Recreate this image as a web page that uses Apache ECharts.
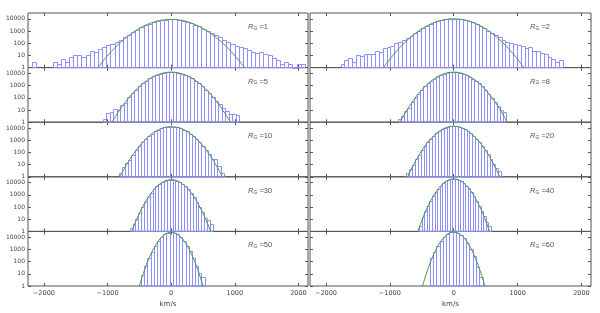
<!DOCTYPE html>
<html><head><meta charset="utf-8">
<script src="https://cdn.jsdelivr.net/npm/echarts@6/dist/echarts.min.js"></script>
<style>html,body{margin:0;padding:0;background:#fff}#c{width:600px;height:313px}</style>
</head><body><div id="c"></div>
<script>
// ---- data ----
const panelLabels = ['1','2','5','8','10','20','30','40','50','60'];
const xTicks = [-2000,-1000,0,1000,2000];
const yTicks = [1,10,100,1000,10000];
// histogram bins: left edge of first bin and bin width (km/s)
const binStart = [-2190, -1770, -1072.5, -875, -825, -742.5, -652.5, -540, -475, -378];
const binWidth = [65, 60, 55, 50, 50, 45, 45, 40, 50, 52];
const counts1 = [3,0,0,0,0,3,2,5,3,7,10,10,8,10,22,20,35,45,65,80,130,200,300,470,800,1250,2000,2950,4100,5400,6700,7800,8600,8950,8800,8200,7150,5900,4600,3400,2350,1550,980,650,450,350,200,130,90,60,50,38,30,20,17,18,12,10,6,4,2,3,2,1,2,2];
const counts2 = [2,4,6,3,11,9,12,14,13,24,20,38,50,55,95,120,170,260,420,680,1100,1730,2600,3700,5000,6400,7800,8950,9700,9950,9700,8950,7800,6450,5000,3700,2600,1720,1100,680,430,300,200,130,110,90,65,60,40,45,25,22,16,12,7,5,3,4];
const counts5 = [2,6,7,11,10,25,40,110,240,470,880,1550,2550,3900,5600,7550,9500,11200,12400,12800,12350,11200,9500,7550,5600,3900,2550,1550,880,480,250,120,55,30,15,9,5,5,4];
const counts8 = [2,3,9,16,42,100,220,450,850,1500,2450,3800,5500,7500,9450,11200,12400,12800,12350,11200,9450,7500,5550,3800,2480,1500,850,450,220,100,45,20,10,7];
const counts10 = [2,6,14,25,65,150,330,670,1250,2150,3500,5200,7250,9350,11200,12500,13000,12500,11250,9350,7250,5200,3500,2180,1250,680,340,160,70,30,28,8,2];
const counts20 = [2,4,10,27,66,155,340,690,1290,2260,3670,5500,7700,10000,12000,13500,14000,13500,12050,10000,7700,5500,3650,2250,1300,700,350,160,70,30,12,5,3];
const counts30 = [2,4,10,34,100,270,645,1400,2740,4840,7700,11000,14300,16700,17600,16700,14300,11050,7700,4850,2750,1400,650,270,100,36,12,8,4];
const counts40 = [3,14,45,130,340,800,1700,3250,5650,8900,12700,16300,19000,20000,19000,16400,12700,8950,5700,3300,1700,800,340,130,50,18,6,3];
const counts50 = [8,40,180,670,2050,5100,10300,17100,23200,25700,23200,17100,10300,5100,2050,680,190,45,12,5];
const counts60 = [200,600,1900,5200,11000,18800,25200,26800,22600,15100,8000,3400,1150,300,35,6];
const allCounts = [counts1,counts2,counts5,counts8,counts10,counts20,counts30,counts40,counts50,counts60];
// fitted curve, sampled symmetrically about 0 with the given step (km/s)
const fitStep = [150,150,125,110,100,90,90,80,70,70];
const fit1 = [0.46,4.7,35,190,761,2250,4850,7710,9000,7710,4850,2250,761,190,35,4.7,0.46];
const fit2 = [0.17,2.2,20.7,137,641,2130,5030,8420,10000,8420,5030,2130,641,137,20.7,2.2,0.17];
const fit5 = [0.23,3.0,27.5,180,835,2760,6470,10790,12800,10790,6470,2760,835,180,27.5,3.0,0.23];
const fit8 = [0.39,4.5,36.8,221,951,2970,6680,10880,12800,10880,6680,2970,951,221,36.8,4.5,0.39];
const fit10 = [0.095,1.1,10,68,337,1250,3490,7250,11230,13000,11230,7250,3490,1250,337,68,10,1.1,0.095];
const fit20 = [0.08,1.0,9.5,66,340,1290,3670,7720,12060,14000,12060,7720,3670,1290,340,66,9.5,1.0,0.08];
const fit30 = [0.03,0.7,10.3,100,645,2740,7700,14310,17600,14310,7700,2740,645,100,10.3,0.7,0.03];
const fit40 = [0.05,1.0,14,129,795,3260,8930,16350,20000,16350,8930,3260,795,129,14,1.0,0.05];
const fit50 = [0.08,1.5,20,178,1070,4290,11600,21070,25700,21070,11600,4290,1070,178,20,1.5,0.08];
const fit60 = [0.04,0.92,14,141,935,4080,11660,21890,27000,21890,11660,4080,935,141,14,0.92,0.04];
const allFits = [fit1,fit2,fit5,fit8,fit10,fit20,fit30,fit40,fit50,fit60];

// ---- layout ----
const colLeft = [28, 310];
const colWidth = [280, 281];
const rowTop = [13, 67.6, 122.2, 176.8, 231.4];
const rowH = 54.6;
const frameColor = '#555';
const textColor = '#444';
const fmtX = v => (v < 0 ? '\u2212' : '') + Math.abs(v);
const fmtY = v => String(Math.round(v));
const snap = p => Math.round(p) + 0.5;

const grids = [], xAxes = [], yAxes = [], series = [], graphics = [];
for (let i = 0; i < 10; i++) {
  const r = Math.floor(i / 2), c = i % 2;
  grids.push({left: colLeft[c], top: rowTop[r], width: colWidth[c], height: rowH,
    show: true, borderColor: frameColor, borderWidth: 1, backgroundColor: 'transparent'});
  const xBase = {gridIndex: i, type: 'value', min: -2250, max: 2150,
    axisLine: {show: false, onZero: false}, splitLine: {show: false},
    axisTick: {show: true, inside: true, length: 3, customValues: xTicks, lineStyle: {color: frameColor}}};
  xAxes.push(Object.assign({}, xBase, {position: 'bottom',
    axisLabel: {show: r === 4, customValues: xTicks, formatter: fmtX, fontSize: 6.5, color: textColor, margin: 4},
    name: r === 4 ? 'km/s' : '', nameLocation: 'middle', nameGap: 15,
    nameTextStyle: {fontSize: 7, color: textColor}}));
  xAxes.push(Object.assign({}, xBase, {position: 'top', axisLabel: {show: false}}));
  const yBase = {gridIndex: i, type: 'log', logBase: 10, min: 1, max: 30000,
    axisLine: {show: false, onZero: false}, splitLine: {show: false}, minorTick: {show: false},
    axisTick: {show: true, inside: true, length: 3, customValues: yTicks, lineStyle: {color: frameColor}}};
  yAxes.push(Object.assign({}, yBase, {position: 'left',
    axisLabel: {show: c === 0, customValues: yTicks, formatter: fmtY, fontSize: 6, color: textColor, margin: 3}}));
  yAxes.push(Object.assign({}, yBase, {position: 'right', axisLabel: {show: false}}));

  const bars = allCounts[i].map((v, k) => [binStart[i] + k * binWidth[i], binStart[i] + (k + 1) * binWidth[i], v]);
  series.push({type: 'custom', xAxisIndex: 2 * i, yAxisIndex: 2 * i, data: bars,
    encode: {x: [0, 1], y: 2}, z: 2,
    renderItem: function (params, api) {
      const v = api.value(2);
      if (!(v > 0)) return null;
      const p0 = api.coord([api.value(0), v]);
      const p1 = api.coord([api.value(1), 1]);
      const x0 = snap(p0[0]), x1 = snap(p1[0]), y0 = snap(p0[1]);
      return {type: 'rect', shape: {x: x0, y: y0, width: x1 - x0, height: p1[1] - y0},
        style: {fill: 'rgba(255,255,255,0)', stroke: '#8f8fff', lineWidth: 1}};
    }});
  const f = allFits[i], n = f.length;
  series.push({type: 'line', xAxisIndex: 2 * i, yAxisIndex: 2 * i, z: 3,
    data: f.map((y, k) => [(k - (n - 1) / 2) * fitStep[i], y]),
    showSymbol: false, smooth: 0.4, clip: true,
    lineStyle: {color: '#4a9a4a', width: 1}});
  graphics.push({type: 'text', left: colLeft[c] + 220, top: rowTop[r] + 10, z: 10,
    style: {text: '{r|R}{g|G}{t| =' + panelLabels[i] + '}', fill: '#555',
      rich: {r: {fontStyle: 'italic', fontSize: 7.5, fill: '#555', lineHeight: 10, verticalAlign: 'bottom'},
             g: {fontSize: 5, fill: '#555', lineHeight: 7, verticalAlign: 'bottom'},
             t: {fontSize: 7.5, fill: '#555', lineHeight: 10, verticalAlign: 'bottom'}}}});
}

const chart = echarts.init(document.getElementById('c'), null, {renderer: 'canvas'});
chart.setOption({
  animation: false,
  backgroundColor: '#fff',
  textStyle: {fontFamily: 'DejaVu Sans'},
  grid: grids, xAxis: xAxes, yAxis: yAxes, series: series, graphic: graphics
});
</script></body></html>
